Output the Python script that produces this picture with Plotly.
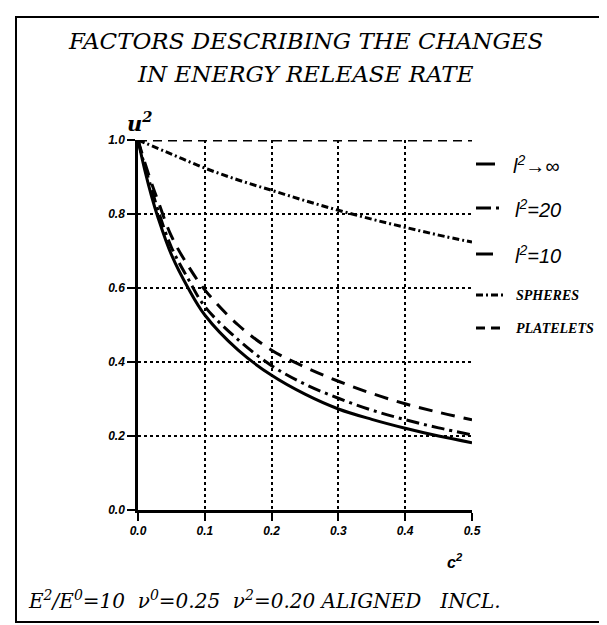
import plotly.graph_objects as go

# ---- data ----
c_vals = [0.0, 0.01, 0.02, 0.03, 0.05, 0.075, 0.1, 0.15, 0.2, 0.25, 0.3, 0.35, 0.4, 0.45, 0.5]
u_inf  = [1.0, 0.92, 0.85, 0.79, 0.69, 0.60, 0.527, 0.432, 0.364, 0.313, 0.273, 0.245, 0.221, 0.200, 0.182]
u_l20  = [1.0, 0.93, 0.87, 0.81, 0.71, 0.625, 0.55, 0.46, 0.39, 0.34, 0.302, 0.27, 0.244, 0.222, 0.203]
u_l10  = [1.0, 0.94, 0.885, 0.835, 0.74, 0.66, 0.595, 0.50, 0.432, 0.386, 0.348, 0.315, 0.287, 0.264, 0.244]

c_sph  = [0.0, 0.05, 0.1, 0.15, 0.2, 0.25, 0.3, 0.35, 0.4, 0.45, 0.5]
u_sph  = [1.0, 0.962, 0.924, 0.892, 0.864, 0.836, 0.81, 0.786, 0.764, 0.743, 0.724]

c_plt  = [0.0, 0.5]
u_plt  = [1.0, 1.0]

x_ticks = [0.0, 0.1, 0.2, 0.3, 0.4, 0.5]
y_ticks = [0.0, 0.2, 0.4, 0.6, 0.8, 1.0]

W, H = 607, 625
L, R, T, B = 130, 464, 132, 502   # plot area in pixels


def px(x):
    return (x - L) / (R - L)


def py(y):
    return (B - y) / (B - T)


fig = go.Figure()

series = [
    (c_vals, u_inf, "solid"),
    (c_vals, u_l20, "13px,5px,3px,5px"),
    (c_vals, u_l10, "14px,9px"),
    (c_sph, u_sph, "7px,3px,2px,3px"),
    (c_plt, u_plt, "9px,6px"),
]
for xs, ys, dash in series:
    fig.add_trace(go.Scatter(x=xs, y=ys, mode="lines",
                             line=dict(color="black", width=3, dash=dash, shape="spline"),
                             showlegend=False, hoverinfo="skip"))

tickfont = dict(family="Liberation Sans", size=12, color="black", weight="bold", style="italic")
axis_common = dict(showline=True, linewidth=2.5, linecolor="black", ticks="outside", ticklen=8, tickwidth=2,
                   tickcolor="black", showgrid=True, gridcolor="black", gridwidth=1.5, griddash="dot",
                   zeroline=False, tickfont=tickfont, tickformat=".1f")
fig.update_xaxes(range=[0, 0.5], tickvals=x_ticks, **axis_common)
fig.update_yaxes(range=[0, 1.0], tickvals=y_ticks, **axis_common)

serif_it = dict(family="DejaVu Serif", color="black", style="italic")

annotations = [
    dict(x=0.5, y=py(33), text="FACTORS DESCRIBING THE CHANGES", font=dict(size=23, **serif_it)),
    dict(x=0.5, y=py(66), text="IN ENERGY RELEASE RATE", font=dict(size=23, **serif_it)),
    dict(x=px(117), y=py(114), text="<b>u<sup>2</sup></b>", font=dict(size=21, **serif_it)),
    dict(x=px(457), y=py(553), text="c<sup>2</sup>",
         font=dict(family="Liberation Sans", size=16, color="black", style="italic", weight="bold")),
    dict(x=px(18), y=py(592), xanchor="left",
         text="E<sup>2</sup>/E<sup>0</sup>=10  ν<sup>0</sup>=0.25  ν<sup>2</sup>=0.20 ALIGNED   INCL.",
         font=dict(size=20, **serif_it)),
]

# legend (manual, to match reference layout)
leg_y = [156, 200, 246, 287, 320]
leg_text = ["<i>l</i><sup>2</sup>→∞", "<i>l</i><sup>2</sup>=20", "<i>l</i><sup>2</sup>=10",
            "<b>SPHERES</b>", "<b>PLATELETS</b>"]
leg_dash = ["solid", "15px,5px,3px,5px", "solid", "7px,3px,2px,3px", "9px,6px"]
leg_x1 = [487, 491, 485, 497, 495]
sans_leg = dict(family="Liberation Sans", size=20, color="black", style="italic")
serif_leg = dict(family="Liberation Serif", size=14, color="black", style="italic")
leg_font = [sans_leg, sans_leg, sans_leg, serif_leg, serif_leg]
leg_tx = [503, 505, 505, 506, 506]

shapes = []
for yv, txt, d, x1, f, tx in zip(leg_y, leg_text, leg_dash, leg_x1, leg_font, leg_tx):
    shapes.append(dict(type="line", xref="paper", yref="paper", x0=px(468), x1=px(x1), y0=py(yv), y1=py(yv),
                       line=dict(color="black", width=3, dash=d)))
    annotations.append(dict(x=px(tx), y=py(yv), xanchor="left", text=txt, font=f))

for a in annotations:
    a.setdefault("xref", "paper")
    a.setdefault("yref", "paper")
    a.setdefault("showarrow", False)
    a.setdefault("yanchor", "middle")

# outer frame
shapes.append(dict(type="rect", xref="paper", yref="paper", x0=px(8), x1=px(601), y0=py(614), y1=py(9),
                   line=dict(color="black", width=2)))

fig.update_layout(width=W, height=H, margin=dict(l=L, r=W - R, t=T, b=H - B),
                  paper_bgcolor="white", plot_bgcolor="white",
                  annotations=annotations, shapes=shapes, showlegend=False)

fig.write_html("out.html")
